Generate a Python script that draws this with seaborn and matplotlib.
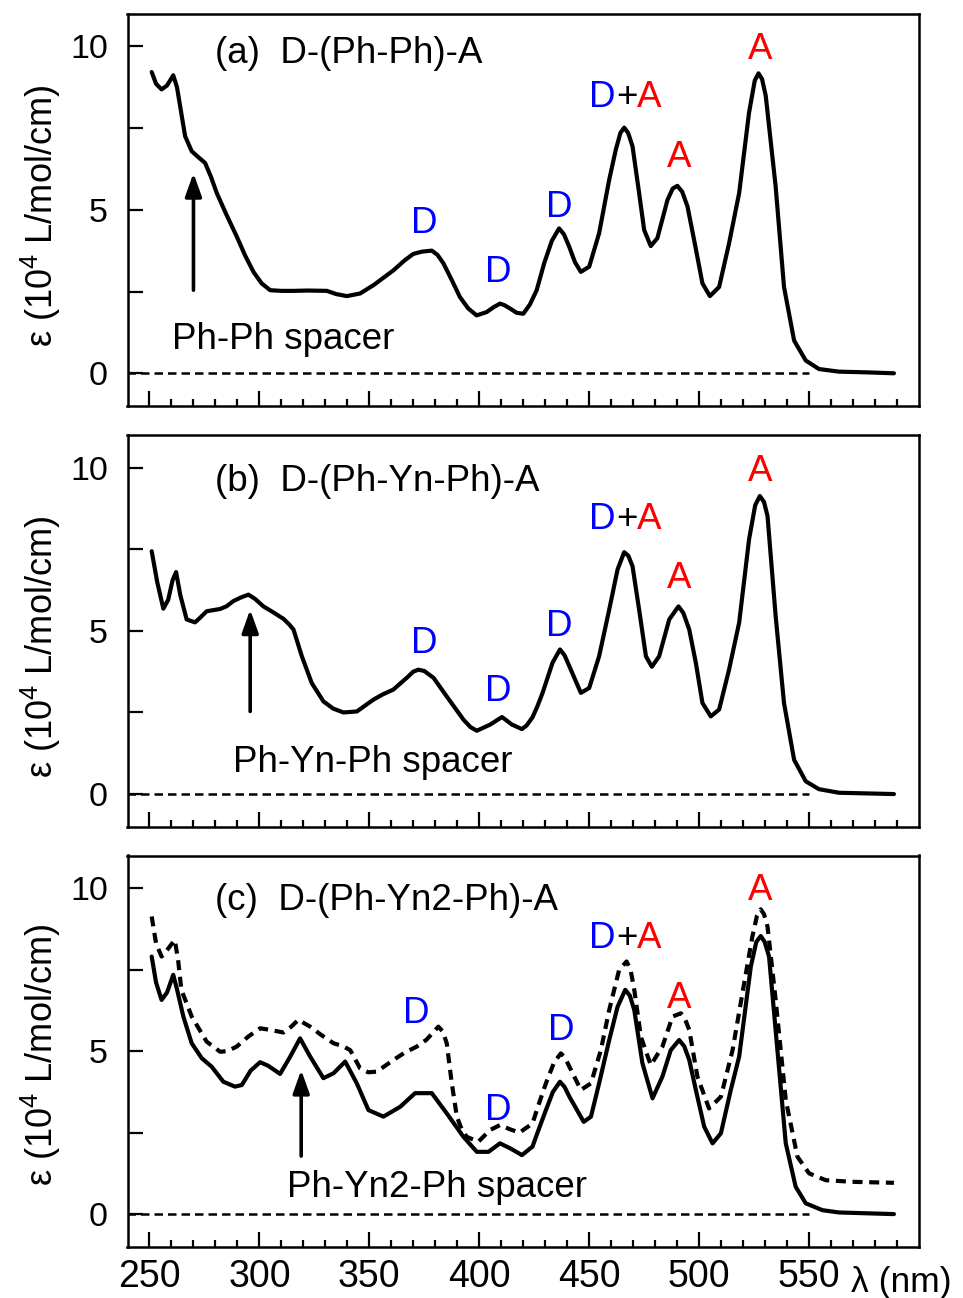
import matplotlib
matplotlib.use("Agg")
import matplotlib.pyplot as plt
from matplotlib.ticker import FixedLocator, FixedFormatter
import seaborn as sns

sns.set_theme(style="ticks")
plt.rcParams["font.family"] = ["Liberation Sans", "DejaVu Sans"]
plt.rcParams["mathtext.fontset"] = "custom"
plt.rcParams["mathtext.rm"] = "Liberation Sans"
plt.rcParams["mathtext.it"] = "Liberation Sans:italic"
for key in ["text.color", "axes.labelcolor", "xtick.color", "ytick.color",
            "axes.edgecolor", "xtick.labelcolor", "ytick.labelcolor"]:
    plt.rcParams[key] = "black"

# ---------------- absorption spectra (wavelength in nm, epsilon in 1e4 L/mol/cm)
wl_a = [251, 253, 255.5, 258, 260.8, 262.5, 264.7, 266.2, 269.2, 272, 275.3, 278, 280.6,
        285, 289.7, 293.5, 297.3, 301, 304.9, 310, 315.5, 322, 330.7, 335, 339.8, 345.8,
        352, 361, 366, 370, 374, 378.4, 381, 383.7, 387.5, 391.2, 395, 398.8, 403.3,
        406.5, 409.4, 411.5, 414, 417, 420, 423, 426.1, 429.5, 433, 436.3, 438.5, 440.9,
        443.5, 446.2, 450, 454.5, 459.1, 462.1, 464.2, 465.9, 467.7, 469.7, 472.7, 475,
        478, 481, 485.6, 488, 490.1, 492.3, 494.7, 497.7, 501.5, 504.9, 509.1, 513.6,
        518.2, 522.7, 525.3, 527, 528.6, 530.3, 534.8, 538.6, 543.2, 548.5, 554.5, 563.6,
        575.7, 588.6]
eps_a = [9.21, 8.85, 8.68, 8.80, 9.11, 8.75, 7.86, 7.25, 6.79, 6.62, 6.43, 6.00, 5.51,
         4.85, 4.18, 3.60, 3.10, 2.75, 2.54, 2.52, 2.52, 2.53, 2.52, 2.42, 2.36, 2.44,
         2.70, 3.15, 3.45, 3.65, 3.72, 3.75, 3.62, 3.36, 2.85, 2.33, 1.98, 1.77, 1.87,
         2.02, 2.13, 2.08, 1.98, 1.85, 1.82, 2.10, 2.54, 3.36, 4.05, 4.43, 4.25, 3.87,
         3.40, 3.10, 3.26, 4.28, 5.92, 6.84, 7.35, 7.51, 7.35, 6.94, 5.51, 4.38,
         3.89, 4.13, 5.30, 5.65, 5.73, 5.55, 5.10, 4.08, 2.75, 2.36, 2.64, 3.97,
         5.51, 7.97, 8.95, 9.17, 9.00, 8.48, 5.71, 2.64, 1.00, 0.39, 0.13, 0.05,
         0.03, 0.00]

wl_b = [251, 253.5, 256.3, 258.5, 260.5, 262.1, 264, 266.9, 270.7, 273, 276, 282.1, 285,
        288.1, 291.5, 295, 298, 301.8, 306, 310.9, 313.5, 315.5, 319.3, 323.8, 329.1,
        333.5, 338.2, 344.3, 351.8, 356, 360.9, 367, 370, 372.3, 375, 379.2, 385.2,
        392.8, 396, 398.9, 405, 410.3, 412.5, 414.8, 419.4, 421.5, 424.2, 426.5, 428.8,
        433.3, 436.7, 438.8, 441, 446.2, 450, 454.5, 459.1, 462.9, 465.9, 467.8, 469.7,
        472.7, 475.8, 478.5, 481.8, 486.4, 490.6, 492.8, 495.5, 498.5, 501.5, 505.3,
        509.1, 513.6, 518.2, 522.7, 525.5, 527.6, 529.5, 531.1, 534.8, 538.6, 543.2,
        548.5, 554.5, 563.6, 588.6]
eps_b = [7.44, 6.50, 5.68, 5.95, 6.55, 6.80, 6.10, 5.35, 5.26, 5.40, 5.60, 5.67, 5.75,
         5.91, 6.02, 6.11, 5.98, 5.75, 5.58, 5.37, 5.20, 5.04, 4.22, 3.40, 2.84,
         2.62, 2.50, 2.53, 2.89, 3.05, 3.20, 3.56, 3.75, 3.81, 3.77, 3.56, 2.99,
         2.28, 2.05, 1.94, 2.13, 2.36, 2.25, 2.13, 1.99, 2.10, 2.35, 2.70, 3.10,
         4.02, 4.43, 4.25, 3.91, 3.10, 3.25, 4.22, 5.65, 6.88, 7.41, 7.30, 6.98,
         5.65, 4.22, 3.90, 4.22, 5.35, 5.75, 5.55, 5.04, 4.02, 2.79, 2.38,
         2.59, 3.81, 5.25, 7.80, 8.85, 9.13, 8.95, 8.52, 5.45, 2.79, 1.05,
         0.39, 0.15, 0.04, 0.00]

wl_c = [251, 253, 255.5, 258, 260.8, 262.5, 265.4, 269.2, 273.8, 278.3, 283.6, 288.9, 292,
        296, 300.3, 304, 309.4, 314, 318.5, 323.1, 329.1, 333.7, 339, 344.3, 349.6, 356.4,
        364, 370.8, 378.4, 385.2, 392.8, 398.9, 404.2, 409.4, 414, 419.4, 424.2, 426.5,
        430.3, 433.5, 436.7, 438.8, 441, 447.5, 450.8, 454.5, 459.1, 462.9, 466.4, 468.5,
        470.5, 474.2, 478.8, 483.3, 487.1, 490.9, 493.2, 495.5, 498.5, 502.3, 506.1,
        509.9, 514.4, 518.2, 523.5, 526, 528, 529.8, 531.8, 535.6, 539.4, 543.9, 548.5,
        556.1, 563.6, 588.6]
eps_c = [7.90, 7.10, 6.57, 6.80, 7.34, 6.90, 6.06, 5.24, 4.78, 4.52, 4.06, 3.91, 3.96,
         4.40, 4.66, 4.55, 4.30, 4.83, 5.39, 4.83, 4.17, 4.32, 4.68, 4.01, 3.19, 2.99,
         3.29, 3.71, 3.71, 3.09, 2.37, 1.91, 1.91, 2.17, 2.02, 1.81, 2.07, 2.50,
         3.19, 3.75, 4.06, 3.90, 3.60, 2.83, 2.99, 4.01, 5.34, 6.36, 6.88, 6.70,
         6.26, 4.63, 3.55, 4.22, 5.03, 5.34, 5.15, 4.73, 3.81, 2.68, 2.17,
         2.48, 3.81, 4.83, 7.59, 8.35, 8.53, 8.35, 7.90, 5.03, 2.17, 0.84, 0.33,
         0.12, 0.05, 0.00]

wl_c2 = [251, 253, 255.5, 258, 261.5, 263, 264.5, 269.2, 276, 282.1, 285.5, 289.7, 295,
         300.3, 305, 310.9, 314.5, 317.7, 320.5, 323.1, 328, 333.7, 338, 341.3, 345.8,
         349.5, 353.4, 361, 366, 371.6, 376, 381.4, 383.4, 385.2, 387.5, 389.8, 392,
         394.3, 399.6, 404.9, 409.4, 414, 418.3, 424.2, 427.2, 430.3, 434, 437.1, 439,
         441, 446.2, 450.8, 455.3, 459.1, 463.6, 467, 468.8, 470.5, 473.5, 478, 483.3,
         487.9, 491.7, 493.5, 495.5, 499.2, 504.5, 509.9, 515.2, 519.7, 524.2, 526.3,
         528, 529.5, 531.1, 534.8, 539.4, 544.7, 550, 557.6, 569.7, 588.6]
eps_c2 = [9.13, 8.30, 7.90, 8.10, 8.41, 7.80, 6.88, 6.06, 5.29, 4.98, 5.00, 5.14, 5.45,
          5.70, 5.65, 5.57, 5.75, 5.96, 5.85, 5.75, 5.50, 5.24, 5.15, 5.03, 4.47,
          4.35, 4.37, 4.73, 4.95, 5.14, 5.35, 5.75, 5.60, 5.24, 4.01, 2.99, 2.60,
          2.37, 2.22, 2.58, 2.73, 2.60, 2.50, 2.78, 3.40, 4.01, 4.65, 4.93, 4.80,
          4.52, 3.81, 4.01, 5.03, 6.26, 7.49, 7.75, 7.50, 6.88, 5.44, 4.57, 5.14,
          6.06, 6.16, 6.00, 5.65, 4.22, 3.24, 3.60, 5.03, 6.78, 8.51, 9.15,
          9.35, 9.20, 8.82, 6.57, 3.50, 1.76, 1.25, 1.04, 0.99, 0.96]

# ---------------- axis scales and ticks
x_range = (240, 600)
y_range = (-1, 11)
x_major = [250, 300, 350, 400, 450, 500, 550]
x_minor = list(range(250, 600, 10))
y_ticks = [0, 2.5, 5, 7.5, 10]
y_ticklabels = ["0", "", "5", "", "10"]
baseline_end = 550

# ---------------- annotations
titles = ["(a)  D-(Ph-Ph)-A", "(b)  D-(Ph-Yn-Ph)-A", "(c)  D-(Ph-Yn2-Ph)-A"]
title_pos = [(280, 9.48), (280, 9.28), (280, 9.33)]
spacer_text = ["Ph-Ph spacer", "Ph-Yn-Ph spacer", "Ph-Yn2-Ph spacer"]
spacer_pos = [(260.2, 0.75), (287.9, 0.69), (312.5, 0.51)]
arrow_x = [270, 295.8, 319]
arrow_y0 = [2.54, 2.53, 1.78]
arrow_y1 = [6.12, 5.65, 4.42]

# single-letter band labels: (wavelength, height, text)
bands = [
    [(374.9, 4.28, "D"), (408.7, 2.79, "D"), (436.4, 4.79, "D"),
     (490.9, 6.31, "A"), (527.6, 9.62, "A")],
    [(374.9, 4.33, "D"), (408.7, 2.84, "D"), (436.4, 4.83, "D"),
     (490.9, 6.32, "A"), (527.6, 9.59, "A")],
    [(371.2, 5.86, "D"), (408.7, 2.89, "D"), (437.5, 5.34, "D"),
     (490.9, 6.32, "A"), (527.6, 9.64, "A")],
]
# mixed "D+A" labels
mixed_x = [467, 467, 467]
mixed_y = [8.15, 8.13, 8.16]
ylabel_y = [0.485, 0.46, 0.49]

band_colors = {"D": "#0000FF", "A": "#FF0000"}
FS = 26.5
CURVE_LW = 3.0

fig = plt.figure(figsize=(9.63, 12.98), dpi=100)
left, width = 127.5 / 963, (919 - 127.5) / 963
tops = [13.5, 435, 855.5]
bots = [406, 826.7, 1246.7]
axes = []
for t, b in zip(tops, bots):
    axes.append(fig.add_axes([left, 1 - b / 1298, width, (b - t) / 1298]))

series = [[(wl_a, eps_a, "-")], [(wl_b, eps_b, "-")],
          [(wl_c, eps_c, "-"), (wl_c2, eps_c2, (0, (2.4, 1.6)))]]

for i, ax in enumerate(axes):
    for wl, eps, ls in series[i]:
        n_before = len(ax.lines)
        sns.lineplot(x=wl, y=eps, ax=ax, color="black", linewidth=CURVE_LW,
                     linestyle=ls, sort=False, estimator=None)
        for ln in ax.lines[n_before:]:
            ln.set_linewidth(CURVE_LW)
            ln.set_linestyle(ls)
            ln.set_solid_joinstyle("round")
    ax.hlines(0, x_range[0], baseline_end, colors="black", linewidth=1.8,
              linestyles=(0, (3.4, 2.0)))

    ax.set_xlim(*x_range)
    ax.set_ylim(*y_range)
    ax.xaxis.set_major_locator(FixedLocator(x_major))
    ax.xaxis.set_minor_locator(FixedLocator(x_minor))
    ax.yaxis.set_major_locator(FixedLocator(y_ticks))
    ax.yaxis.set_major_formatter(FixedFormatter(y_ticklabels))
    ax.tick_params(axis="both", which="major", direction="in", length=10.5,
                   width=1.6, color="black")
    ax.tick_params(axis="x", which="minor", direction="in", length=5,
                   width=1.6, color="black")
    ax.tick_params(axis="y", which="major", labelsize=24.5, pad=14)
    ax.tick_params(axis="x", which="major", labelsize=27, pad=9)
    ax.tick_params(top=False, right=False, which="both")
    if i < 2:
        ax.tick_params(axis="x", labelbottom=False)
    for sp in ax.spines.values():
        sp.set_linewidth(1.8)
        sp.set_color("black")
        sp.set_visible(True)

    ax.set_ylabel("ε (10$^4$ L/mol/cm)", fontsize=26, va="center")
    ax.yaxis.set_label_coords(-0.110, ylabel_y[i])
    ax.set_xlabel("")

    ax.text(title_pos[i][0], title_pos[i][1], titles[i], fontsize=FS,
            ha="left", va="baseline", color="black")
    ax.text(spacer_pos[i][0], spacer_pos[i][1], spacer_text[i], fontsize=FS,
            ha="left", va="baseline", color="black")
    ax.annotate("", xy=(arrow_x[i], arrow_y1[i]), xytext=(arrow_x[i], arrow_y0[i]),
                arrowprops=dict(arrowstyle="-|>,head_length=0.7,head_width=0.25",
                                color="black", lw=2.6, mutation_scale=20,
                                shrinkA=0, shrinkB=0))

    for bx, by, txt in bands[i]:
        ax.text(bx, by, txt, fontsize=FS, ha="center", va="baseline",
                color=band_colors[txt])
    ax.annotate("+", xy=(mixed_x[i], mixed_y[i]), fontsize=FS, ha="center",
                va="baseline", color="black")
    ax.annotate("D", xy=(mixed_x[i], mixed_y[i]), xytext=(-7.8, 0),
                textcoords="offset points", fontsize=FS, ha="right",
                va="baseline", color=band_colors["D"])
    ax.annotate("A", xy=(mixed_x[i], mixed_y[i]), xytext=(7.8, 0),
                textcoords="offset points", fontsize=FS, ha="left",
                va="baseline", color=band_colors["A"])

fig.text(851 / 963, 1 - 1292 / 1298, "λ (nm)", fontsize=25.5, ha="left",
         va="baseline", color="black")

fig.savefig("out.png", dpi=100)
